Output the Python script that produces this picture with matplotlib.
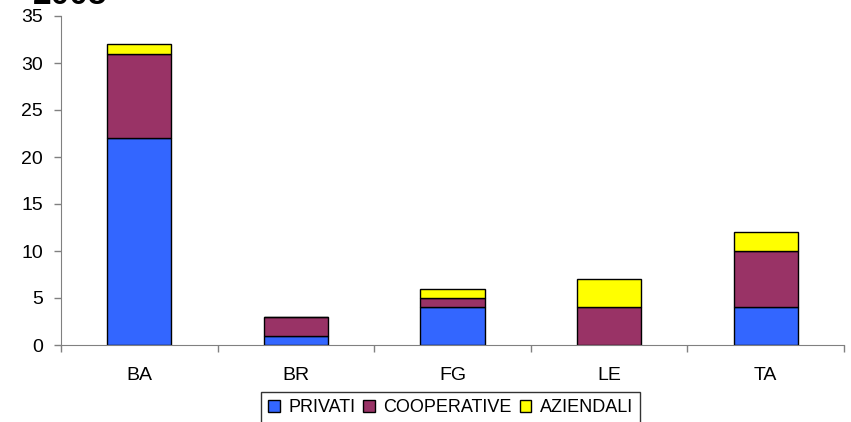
import numpy as np
import matplotlib
matplotlib.use('Agg')
import matplotlib.pyplot as plt

plt.rcParams['font.family'] = ['Liberation Sans', 'DejaVu Sans']

provinces = ['BA', 'BR', 'FG', 'LE', 'TA']
privati = [22, 1, 4, 0, 4]
cooperative = [9, 2, 1, 4, 6]
aziendali = [1, 0, 1, 3, 2]

series_names = ['PRIVATI', 'COOPERATIVE', 'AZIENDALI']
series_colors = ['#3366FF', '#993366', '#FFFF00']

fig = plt.figure(figsize=(8.51, 4.22), dpi=100)
ax = fig.add_axes([61 / 851, 77 / 422, 783 / 851, 329 / 422])

x = np.arange(len(provinces))
bottom = np.zeros(len(provinces))
for name, vals, col in zip(series_names, [privati, cooperative, aziendali], series_colors):
    ax.bar(x, vals, width=0.41, bottom=bottom, color=col, edgecolor='black',
           linewidth=1.0, label=name)
    bottom += np.array(vals)

ax.set_xlim(-0.5, len(provinces) - 0.5)
ax.set_ylim(0, 35)
ax.set_yticks(range(0, 36, 5))
ax.set_xticks(x)
ax.set_xticklabels(provinces)
ax.set_xticks(np.arange(-0.5, len(provinces)), minor=True)
ax.tick_params(axis='x', which='major', length=0, pad=16, labelsize=14)
ax.tick_params(axis='x', which='minor', length=5, width=1, color='#808080')
ax.tick_params(axis='y', length=5, width=1, color='#808080', labelsize=14, pad=8)

for s in ['top', 'right']:
    ax.spines[s].set_visible(False)
ax.spines['left'].set_color('#808080')
ax.spines['bottom'].set_color('#808080')

leg = ax.legend(loc='upper left', bbox_to_anchor=(261 / 851, 1 - 392 / 422),
                bbox_transform=fig.transFigure, ncol=3, frameon=True,
                fontsize=13, handlelength=0.65, handleheight=0.65,
                handletextpad=0.45, columnspacing=0.45, borderpad=0.4,
                fancybox=False, borderaxespad=0)
leg.get_frame().set_edgecolor('black')
leg.get_frame().set_linewidth(1.0)
for h in leg.legend_handles:
    h.set_edgecolor('black')

fig.text(33 / 851, 1 - 4 / 422, '2005', fontsize=24, fontweight='bold',
         ha='left', va='baseline')

fig.savefig('out.png', dpi=100)
